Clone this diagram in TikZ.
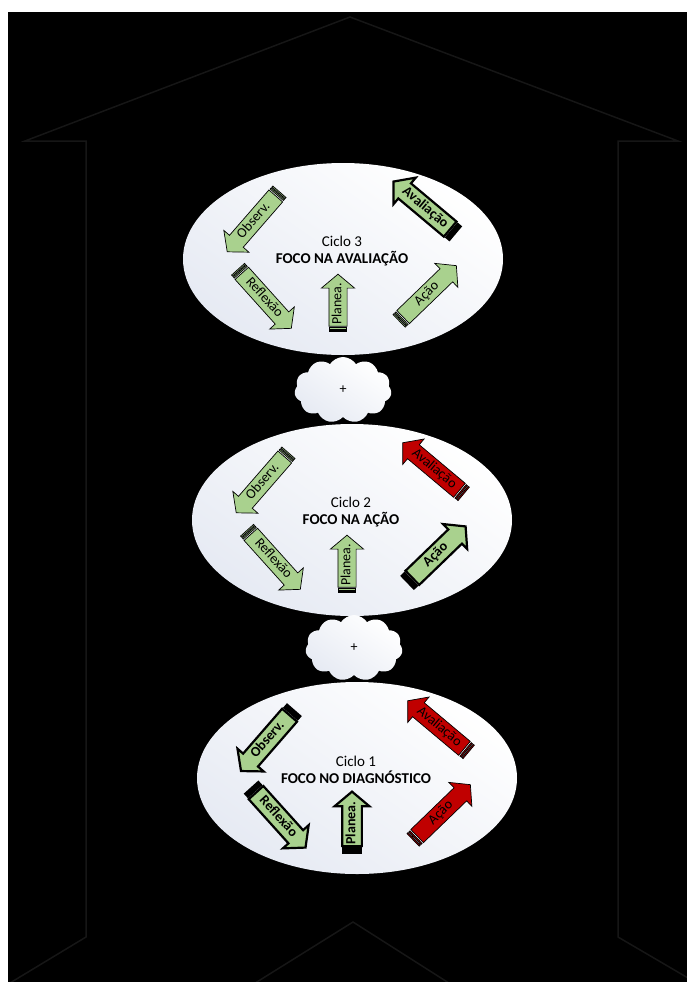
\documentclass[tikz,border=0pt]{standalone}
\usepackage{fontspec}
\setmainfont{Carlito}
\usepackage{tikz}
\usetikzlibrary{calc, shapes.arrows, shapes.symbols, shapes.geometric}
\definecolor{leafg}{RGB}{169,209,142}
\definecolor{alertr}{RGB}{192,0,0}
\definecolor{faintg}{RGB}{22,22,22}
\definecolor{mistb}{RGB}{230,234,243}
\newcommand\arrfont{\fontsize{14}{14}\selectfont}

\begin{document}
\begin{tikzpicture}[x=1pt, y=-1pt,
  arr/.style={single arrow, draw=black, line width=0.7pt, fill=leafg, font=\arrfont,
    inner xsep=0.5pt, inner ysep=2pt, text height=10pt, text depth=3.5pt,
    single arrow head extend=7.5pt, single arrow tip angle=100, minimum height=74pt},
  plainarr/.style={arr},
  focusarr/.style={arr, line width=2.2pt, font=\arrfont\bfseries},
  openarr/.style={arr, fill=alertr},
  bubble/.style={ellipse, minimum width=320pt, minimum height=192pt,
    top color=white, bottom color=mistb, shading angle=-35},
  puff/.style={cloud, cloud puffs=11, cloud puff arc=115, cloud ignores aspect,
    minimum width=97pt, minimum height=66pt, top color=white, bottom color=mistb,
    shading angle=-35, font=\fontsize{14}{14}\selectfont},
  house/.style={draw=faintg, line width=1.5pt, line join=miter}]

% canvas in pixels of the reference: x in [0,687], y in [0,982], y downwards

%% ── page and dark backdrop ───────────────────────────────────────
\useasboundingbox (0,0) rectangle (687,982);
\fill[white] (0,0) rectangle (687,982);
\fill[black] (8,12) rectangle (687,982);

%% ── faint chevron outline ────────────────────────────────────────
\begin{scope}
  \clip (8,12) rectangle (687,982);
  \draw[house] (0,989) -- (86,937) -- (86,141) -- (25,141) -- (350,17)
    -- (678,141) -- (618,141) -- (618,937) -- (700,985);
  \draw[house] (252,985) -- (353,922) -- (452,985);
\end{scope}

%% ── the three cycles ─────────────────────────────────────────────
\foreach \n/\cx/\cy/\focus/\so/\sr/\sp/\sa/\sv in {
    3/343/259/{FOCO NA AVALIAÇÃO}/plainarr/plainarr/plainarr/plainarr/focusarr,
    2/352/520/{FOCO NA AÇÃO}/plainarr/plainarr/plainarr/focusarr/openarr,
    1/357/778/{FOCO NO DIAGNÓSTICO}/focusarr/focusarr/focusarr/openarr/openarr}{
  \coordinate (c\n) at (\cx,\cy);
  \node[bubble] (cyc\n) at (c\n) {};
  \node[font=\fontsize{15}{17}\selectfont, align=center] (lab\n) at ($(c\n)+(-1,-8)$)
    {Ciclo \n\\\textbf{\focus}};
  % arrows round the cycle
  \node[\so, rotate=49, shape border rotate=180] (obs\n) at ($(c\n)+(-89,-38)$) {Observ.};
  \node[\sr, rotate=-48] (ref\n) at ($(c\n)+(-79,39)$) {Reflexão};
  \node[\sp, rotate=90, minimum height=52pt] (pla\n) at ($(c\n)+(-5,45)$) {Planea.};
  \node[\sa, rotate=44] (aca\n) at ($(c\n)+(84,35)$) {Ação};
  \node[\sv, rotate=-40, shape border rotate=180] (ava\n) at ($(c\n)+(82,-51)$) {Avaliação};
  % tail stripes
  \foreach \a/\ang/\st in {obs/229/\so, ref/-48/\sr, pla/90/\sp, aca/44/\sa, ava/140/\sv}{
    \begin{scope}[shift={(\a\n.tail)}, rotate=\ang]
      \draw[\st] (-2.6,-8.75) rectangle (-1.2,8.75) (-5.2,-8.75) rectangle (-3.8,8.75);
    \end{scope}
  }
}

%% ── clouds between cycles ────────────────────────────────────────
\node[puff] (cl32) at (343,390) {+};
\node[puff] (cl21) at (354,648) {+};

\end{tikzpicture}
\end{document}
